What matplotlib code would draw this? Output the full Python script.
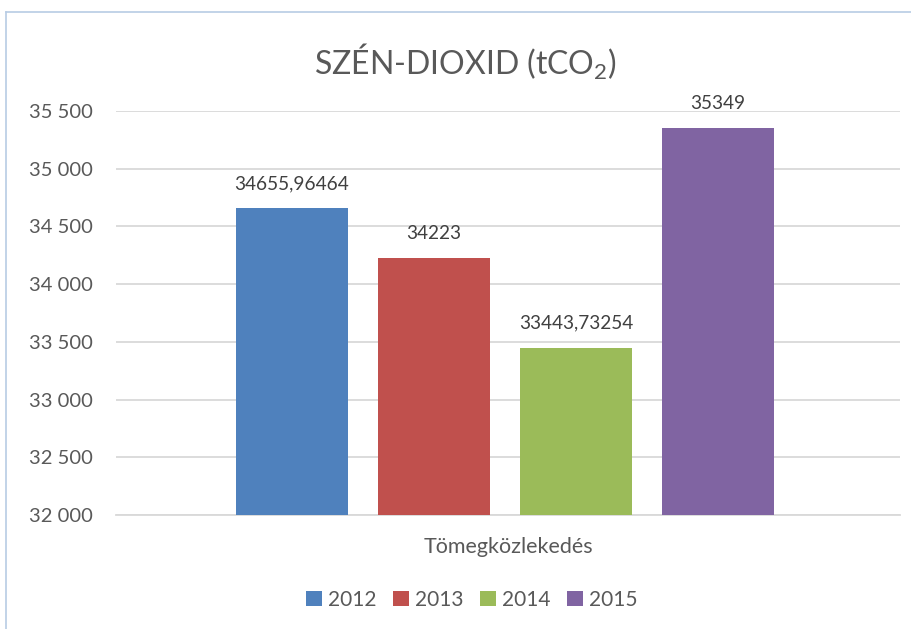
import matplotlib.pyplot as plt
from matplotlib.lines import Line2D
from matplotlib.ticker import FuncFormatter, MultipleLocator

# chart data
category = "Tömegközlekedés"
years = ["2012", "2013", "2014", "2015"]
values = [34655.96464, 34223, 33443.73254, 35349]
colors = ["#4F81BD", "#C0504D", "#9BBB59", "#8064A2"]

text_color = "#595959"
plt.rcParams["font.family"] = ["Lato", "DejaVu Sans"]
plt.rcParams["mathtext.fontset"] = "custom"
plt.rcParams["mathtext.rm"] = "Lato"

fig = plt.figure(figsize=(9.11, 6.29), dpi=100, facecolor="white")
ax = fig.add_axes([116 / 911, 1 - 515 / 629, 784 / 911, 404 / 629])

# bars grouped around the single category
step = 0.181
width = 0.143
for i, (yr, val, col) in enumerate(zip(years, values, colors)):
    x = (i - 1.5) * step - 0.004
    ax.bar(x, val - 32000, bottom=32000, width=width, color=col, label=yr, zorder=3)
    label = str(val).replace(".", ",")
    ax.annotate(label, (x, val), xytext=(0, 18), textcoords="offset points",
                ha="center", va="center", fontsize=13.7, color="#404040")

ax.set_xlim(-0.5, 0.5)
ax.set_ylim(32000, 35500)
ax.yaxis.set_major_locator(MultipleLocator(500))
ax.yaxis.set_major_formatter(FuncFormatter(lambda v, p: f"{v:,.0f}".replace(",", " ")))
ax.set_xticks([0], [category])

ax.grid(axis="y", color="#D9D9D9", linewidth=1.3, zorder=0)
for s in ["top", "right", "left"]:
    ax.spines[s].set_visible(False)
ax.spines["bottom"].set_color("#D9D9D9")
ax.spines["bottom"].set_linewidth(1.3)
ax.tick_params(axis="y", length=0, pad=17, labelsize=14.5, labelcolor=text_color)
ax.tick_params(axis="x", length=0, pad=16, labelsize=15.5, labelcolor=text_color)

fig.text(465 / 911, 1 - 62 / 629, r"SZÉN-DIOXID (tCO$\mathregular{_2}$)",
         ha="center", va="center", fontsize=23, color=text_color)

fig.legend(loc="center", bbox_to_anchor=(472 / 911, 1 - 600 / 629), ncol=4,
           frameon=False, fontsize=15, labelcolor=text_color,
           handlelength=0.75, handleheight=0.75, handletextpad=0.3, columnspacing=0.8)

# partial chart border (top and left edges)
border = "#B8CCE4"
fig.add_artist(Line2D([6 / 911, 1], [1 - 12 / 629] * 2, color=border, linewidth=1.2))
fig.add_artist(Line2D([6 / 911] * 2, [0, 1 - 12 / 629], color=border, linewidth=1.2))

fig.savefig("out.png", dpi=100, facecolor="white")
